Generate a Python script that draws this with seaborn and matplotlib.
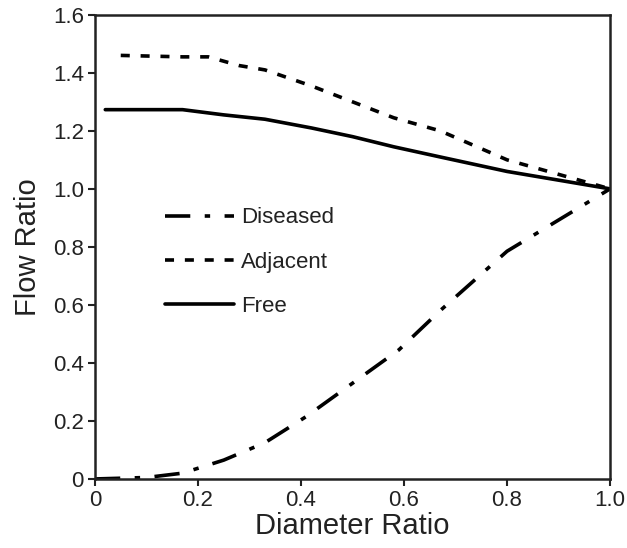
import matplotlib
matplotlib.use("Agg")
import matplotlib.pyplot as plt
import seaborn as sns
import pandas as pd

# data
x_free = [0.02, 0.17, 0.25, 0.33, 0.42, 0.5, 0.58, 0.67, 0.8, 1.0]
y_free = [1.273, 1.273, 1.255, 1.24, 1.21, 1.18, 1.145, 1.11, 1.06, 1.0]

x_adj = [0.05, 0.17, 0.22, 0.28, 0.33, 0.42, 0.5, 0.58, 0.67, 0.8, 1.0]
y_adj = [1.46, 1.455, 1.455, 1.425, 1.41, 1.355, 1.30, 1.245, 1.20, 1.10, 1.0]

x_dis = [0.0, 0.1, 0.17, 0.25, 0.33, 0.41, 0.5, 0.59, 0.67, 0.8, 1.0]
y_dis = [0.0, 0.005, 0.02, 0.065, 0.125, 0.215, 0.33, 0.445, 0.58, 0.785, 1.0]

sns.set_style("ticks")
plt.rcParams['font.family'] = ['Liberation Sans', 'DejaVu Sans']

fig = plt.figure(figsize=(6.27, 5.48), dpi=100)
ax = fig.add_axes([0.1515, 0.126, 0.8215, 0.847])

sns.lineplot(x=x_dis, y=y_dis, ax=ax, color="black", lw=2.6, label="Diseased",
             sort=False)
sns.lineplot(x=x_adj, y=y_adj, ax=ax, color="black", lw=2.6, label="Adjacent",
             sort=False)
sns.lineplot(x=x_free, y=y_free, ax=ax, color="black", lw=2.6, label="Free",
             sort=False)
ax.lines[0].set_dashes([7, 4, 1.5, 4])
ax.lines[1].set_dashes([2.5, 3])

leg = ax.legend(loc="upper left", bbox_to_anchor=(0.098, 0.628), frameon=False,
                fontsize=16, handlelength=3.1, handletextpad=0.3, labelspacing=1.05)
for h in leg.get_lines():
    h.set_linewidth(2.6)
for t in leg.get_texts():
    t.set_color("#222222")

ax.set_xlim(0, 1.0)
ax.set_ylim(0, 1.6)
ax.set_xticks([0, 0.2, 0.4, 0.6, 0.8, 1.0])
ax.set_xticklabels(["0", "0.2", "0.4", "0.6", "0.8", "1.0"])
ax.set_yticks([0, 0.2, 0.4, 0.6, 0.8, 1.0, 1.2, 1.4, 1.6])
ax.set_yticklabels(["0", "0.2", "0.4", "0.6", "0.8", "1.0", "1.2", "1.4", "1.6"])
ax.tick_params(direction="out", length=5, width=1.5, labelsize=16, colors="#222222",
               pad=3)
for s in ax.spines.values():
    s.set_visible(True)
    s.set_linewidth(1.8)
    s.set_color("#222222")

ax.set_xlabel("Diameter Ratio", fontsize=21, color="#222222", labelpad=1)
ax.set_ylabel("Flow Ratio", fontsize=21, color="#222222", labelpad=8)

fig.savefig("out.png", dpi=100)
